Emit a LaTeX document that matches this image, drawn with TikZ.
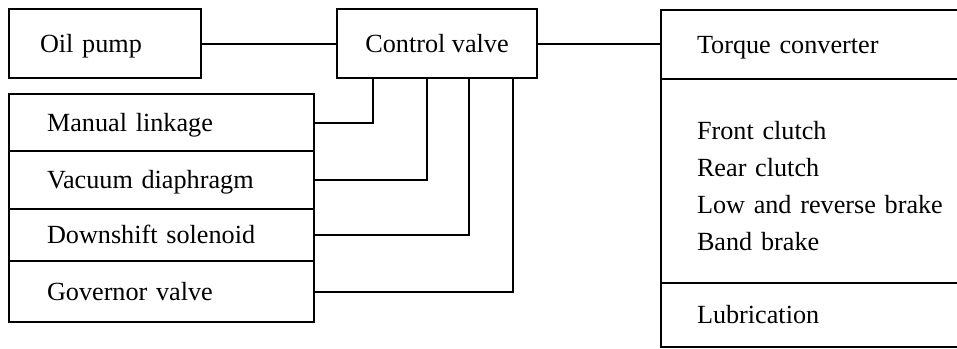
\documentclass[tikz,border=0pt]{standalone}
\usepackage{fontspec}
\setmainfont{Liberation Serif}
\usetikzlibrary{positioning,calc}
\tikzset{
  tm/block/.style={draw, rectangle, line width=1pt, outer sep=0pt, inner ysep=0pt, align=left, font=\fontsize{13.1}{18.5}\selectfont},
  tm/single/.style={tm/block, text height=11.5pt, text depth=2.8pt},
  tm/left/.style={tm/single, inner xsep=19pt, text width=114.5pt},
  tm/right/.style={tm/block, inner xsep=18pt, text width=134pt},
  tm/line/.style={draw, line width=1pt}
}

\begin{document}
\begin{tikzpicture}[x=0.5pt, y=-0.5pt, node distance=0pt]
  \useasboundingbox (0,0) rectangle (957,348);
  \clip (0,0) rectangle (957,348);

  % top row
  \node[tm/single, anchor=north west, inner xsep=15.5pt, text width=65pt, minimum height=34.5pt] (oil) at (9,9) {Oil pump};
  \node[tm/single, anchor=north west, minimum width=100pt, minimum height=34.5pt, align=center] (cv) at (337,9) {Control valve};

  % inputs to the control valve
  \node[tm/left, anchor=north west, minimum height=28.5pt] (ml) at (9,94) {Manual linkage};
  \node[tm/left, below=of ml, minimum height=29pt] (vd) {Vacuum diaphragm};
  \node[tm/left, below=of vd, minimum height=26pt] (ds) {Downshift solenoid};
  \node[tm/left, below=of ds, minimum height=30.5pt] (gv) {Governor valve};

  % hydraulic consumers (right edge runs off the page)
  \node[tm/right, tm/single, anchor=north west, minimum height=34.5pt] (tc) at (661,10) {Torque converter};
  \node[tm/right, below=of tc, minimum height=102pt, text height=14pt, text depth=55.5pt] (fc) {Front clutch\\Rear clutch\\Low and reverse brake\\Band brake};
  \node[tm/right, tm/single, below=of fc, minimum height=32pt] (lub) {Lubrication};

  % connections
  \draw[tm/line] (oil) -- (cv);
  \draw[tm/line] (cv) -- (cv -| tc.west);
  \foreach \row/\dx in {ml/18pt, vd/45pt, ds/66pt, gv/88pt}
    \draw[tm/line] ([xshift=\dx]cv.south west) |- (\row.east);
\end{tikzpicture}
\end{document}
